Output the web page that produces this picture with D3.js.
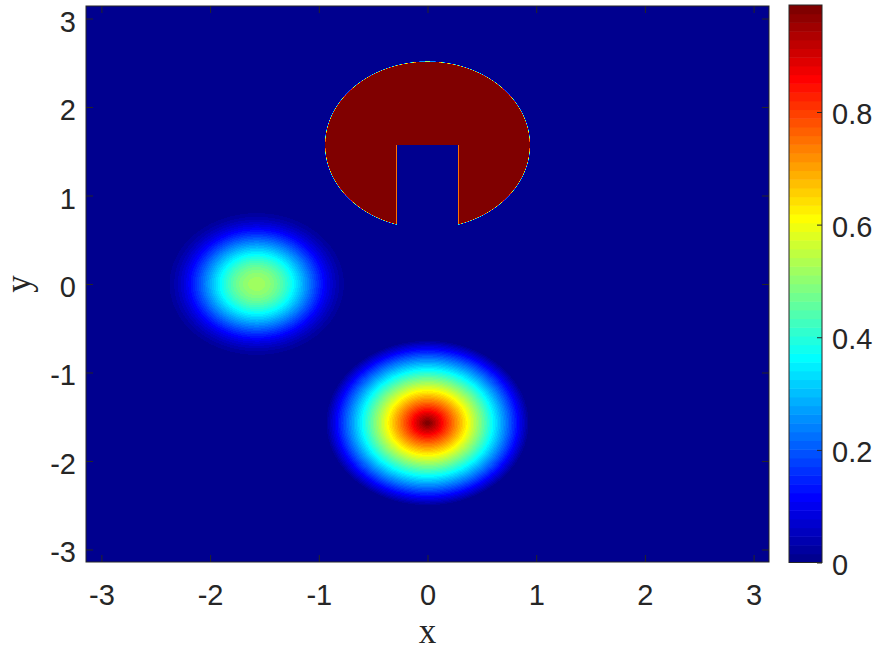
<!DOCTYPE html>
<html>
<head>
<meta charset="utf-8">
<script src="https://cdn.jsdelivr.net/npm/d3@7"></script>
<style>
  body { margin: 0; background: #fff; }
  svg { display: block; }
</style>
</head>
<body>
<div class="chart"></div>
<script>
// tick labels
const xTicks = [-3, -2, -1, 0, 1, 2, 3]
const yTicks = [-3, -2, -1, 0, 1, 2, 3]
const cbTicks = [0, 0.2, 0.4, 0.6, 0.8]

// smooth hump (left) and cone (bottom)
const humpShape = ["cosine", "cone"]
const humpX = [-1.5708, 0]
const humpY = [0, -1.5708]
const humpPeak = [0.52, 1]
const humpRadius = [0.9, 0.9425]

// slotted disc (top)
const discX = [0]
const discY = [1.5708]
const discR = [0.9425]
const slotHalf = [0.283]
const discValue = [1]

const colorMax = 0.99

const margin = { left: 86, top: 6, right: 769, bottom: 562 }
const cb = { x: 789, w: 33, top: 5, bottom: 562.5 }
const ink = "#262626"
const sans = "'Liberation Sans', Arial, Helvetica, sans-serif"
const serif = "'Liberation Serif', 'Times New Roman', serif"

// jet(64) the way matlab builds it
function jet(n) {
  const m = Math.ceil(n / 4)
  const u = []
  for (let i = 1; i <= m; i++) u.push(i / m)
  for (let i = 0; i < m - 1; i++) u.push(1)
  for (let i = m; i >= 1; i--) u.push(i / m)
  const base = Math.ceil(m / 2) - (n % 4 === 1 ? 1 : 0)
  const J = d3.range(n).map(() => [0, 0, 0])
  const g = u.map((_, i) => base + i + 1)
  const r = g.map((v) => v + m).filter((v) => v <= n)
  const gg = g.filter((v) => v <= n)
  const b = g.map((v) => v - m).filter((v) => v >= 1)
  r.forEach((idx, i) => (J[idx - 1][0] = u[i]))
  gg.forEach((idx, i) => (J[idx - 1][1] = u[i]))
  b.forEach((idx, i) => (J[idx - 1][2] = u[u.length - b.length + i]))
  return J.map((c) => d3.rgb(c[0] * 255, c[1] * 255, c[2] * 255))
}
const jet64 = jet(64)

const svg = d3.select(".chart").append("svg")
  .attr("width", 875)
  .attr("height", 656)

const x = d3.scaleLinear().domain([-Math.PI, Math.PI]).range([margin.left, margin.right])
const y = d3.scaleLinear().domain([-Math.PI, Math.PI]).range([margin.bottom, margin.top])
const color = d3.scaleQuantize().domain([0, colorMax]).range(jet64)

function humps(px, py) {
  let v = 0
  humpX.forEach((hx, i) => {
    const rho = Math.hypot(px - hx, py - humpY[i]) / humpRadius[i]
    if (rho >= 1) return
    if (humpShape[i] === "cone") v += humpPeak[i] * (1 - rho)
    else v += humpPeak[i] * 0.5 * (1 + Math.cos(Math.PI * rho))
  })
  return v
}
function inDisc(px, py) {
  for (let i = 0; i < discX.length; i++) {
    const r2 = (px - discX[i]) ** 2 + (py - discY[i]) ** 2
    const inSlot = Math.abs(px - discX[i]) < slotHalf[i] && py < discY[i]
    if (r2 <= discR[i] ** 2 && !inSlot) return discValue[i]
  }
  return null
}

// raster image of the plot area
const w = Math.round(margin.right - margin.left)
const h = Math.round(margin.bottom - margin.top)
const canvas = document.createElement("canvas")
canvas.width = w
canvas.height = h
const ctx = canvas.getContext("2d")
const img = ctx.createImageData(w, h)
const ss = 4
for (let row = 0; row < h; row++) {
  for (let col = 0; col < w; col++) {
    const px = x.invert(margin.left + col + 0.5)
    const py = y.invert(margin.top + row + 0.5)
    const base = humps(px, py)
    // disc coverage of the pixel
    let sum = 0
    for (let a = 0; a < ss; a++) {
      for (let b = 0; b < ss; b++) {
        const sx = x.invert(margin.left + col + (a + 0.5) / ss)
        const sy = y.invert(margin.top + row + (b + 0.5) / ss)
        const d = inDisc(sx, sy)
        sum += d === null ? base : d
      }
    }
    const c = color(sum / (ss * ss))
    const k = (row * w + col) * 4
    img.data[k] = c.r
    img.data[k + 1] = c.g
    img.data[k + 2] = c.b
    img.data[k + 3] = 255
  }
}
ctx.putImageData(img, 0, 0)

svg.append("image")
  .attr("x", margin.left)
  .attr("y", margin.top)
  .attr("width", w)
  .attr("height", h)
  .attr("preserveAspectRatio", "none")
  .attr("href", canvas.toDataURL())

// axes, ticks pointing inward
const fmt = (d) => String(d)
function styleAxis(g) {
  g.select(".domain").remove()
  g.selectAll(".tick line").attr("stroke", ink)
  g.selectAll("text").attr("fill", ink).attr("font-family", sans).attr("font-size", 29)
}
svg.append("g")
  .attr("transform", `translate(0,${margin.bottom})`)
  .call(d3.axisBottom(x).tickValues(xTicks).tickSize(-7).tickFormat(fmt))
  .call(styleAxis)
  .selectAll("text").attr("y", 43).attr("dy", 0)
svg.append("g")
  .attr("transform", `translate(0,${margin.top})`)
  .call(d3.axisTop(x).tickValues(xTicks).tickSize(-7).tickFormat(""))
  .call(styleAxis)
svg.append("g")
  .attr("transform", `translate(${margin.left},0)`)
  .call(d3.axisLeft(y).tickValues(yTicks).tickSize(-7).tickFormat(fmt))
  .call(styleAxis)
  .selectAll("text").attr("x", -10).attr("dy", 12.5)
svg.append("g")
  .attr("transform", `translate(${margin.right},0)`)
  .call(d3.axisRight(y).tickValues(yTicks).tickSize(-7).tickFormat(""))
  .call(styleAxis)

svg.append("rect")
  .attr("x", margin.left)
  .attr("y", margin.top)
  .attr("width", w)
  .attr("height", h)
  .attr("fill", "none")
  .attr("stroke", ink)
  .attr("stroke-width", 1)

// axis labels
svg.append("text")
  .attr("x", x(0))
  .attr("y", 643)
  .attr("text-anchor", "middle")
  .attr("font-family", serif)
  .attr("font-size", 35)
  .attr("fill", ink)
  .text("x")
svg.append("text")
  .attr("transform", `translate(30,${y(0)}) rotate(-90)`)
  .attr("text-anchor", "middle")
  .attr("font-family", serif)
  .attr("font-size", 35)
  .attr("fill", ink)
  .text("y")

// colorbar
const cbY = d3.scaleLinear().domain([0, colorMax]).range([cb.bottom, cb.top])
const bands = d3.range(jet64.length)
svg.append("g")
  .selectAll("rect")
  .data(bands)
  .join("rect")
  .attr("x", cb.x)
  .attr("width", cb.w)
  .attr("y", (i) => cbY(((i + 1) / bands.length) * colorMax))
  .attr("height", (i) => cbY((i / bands.length) * colorMax) - cbY(((i + 1) / bands.length) * colorMax) + 0.5)
  .attr("fill", (i) => jet64[i])
svg.append("g")
  .attr("transform", `translate(${cb.x + cb.w},0)`)
  .call(d3.axisRight(cbY).tickValues(cbTicks).tickSize(-5).tickFormat(fmt))
  .call(styleAxis)
  .selectAll("text").attr("x", 10).attr("dy", 11.5)
svg.append("rect")
  .attr("x", cb.x)
  .attr("y", cb.top)
  .attr("width", cb.w)
  .attr("height", cb.bottom - cb.top)
  .attr("fill", "none")
  .attr("stroke", ink)
  .attr("stroke-width", 1)
</script>
</body>
</html>
